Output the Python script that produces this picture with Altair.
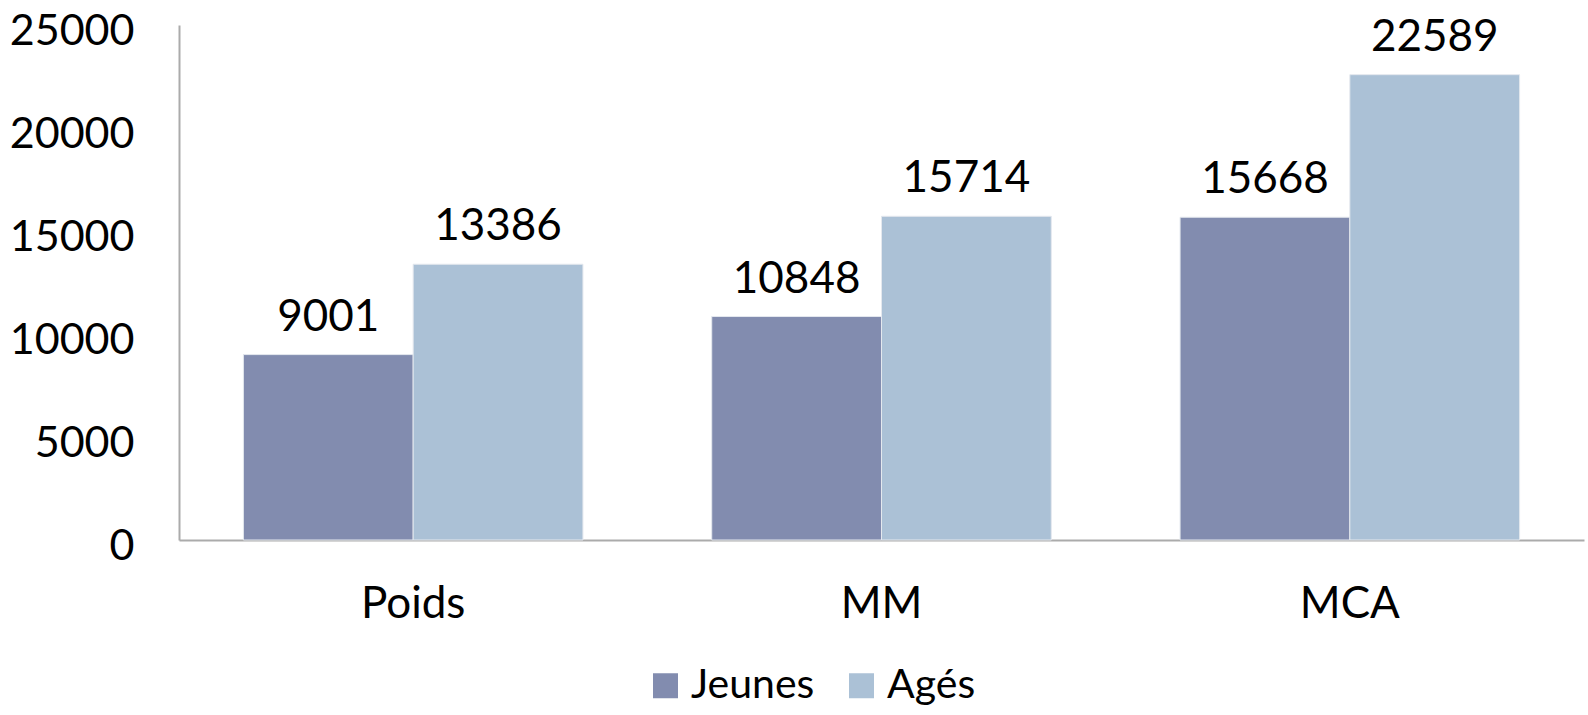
import altair as alt
import pandas as pd

categories = ["Poids", "MM", "MCA"]
groups = ["Jeunes", "Agés"]
jeunes = [9001, 10848, 15668]
ages = [13386, 15714, 22589]
y_ticks = [0, 5000, 10000, 15000, 20000, 25000]
colors = ["#828CAF", "#ABC1D6"]

rows = []
for cat, j, a in zip(categories, jeunes, ages):
    rows.append({"cat": cat, "groupe": groups[0], "valeur": j})
    rows.append({"cat": cat, "groupe": groups[1], "valeur": a})
df = pd.DataFrame(rows)

FONT = "Lato"

x_enc = alt.X(
    "cat:N",
    sort=categories,
    scale=alt.Scale(paddingInner=0.275, paddingOuter=0.1375),
    axis=alt.Axis(
        title=None,
        labelAngle=0,
        ticks=False,
        labelFont=FONT,
        labelFontSize=44,
        labelColor="#000000",
        labelBaseline="alphabetic",
        labelPadding=77,
        domainColor="#ABABAB",
        domainWidth=2,
    ),
)
y_enc = alt.Y(
    "valeur:Q",
    scale=alt.Scale(domain=[0, 25000], nice=False),
    axis=alt.Axis(
        title=None,
        values=y_ticks,
        format="d",
        grid=False,
        ticks=False,
        labelFont=FONT,
        labelFontSize=43,
        labelColor="#000000",
        labelBaseline="alphabetic",
        labelOffset=19,
        labelPadding=45,
        domainColor="#ABABAB",
        domainWidth=2,
    ),
)
xoff = alt.XOffset("groupe:N", sort=groups)
color_enc = alt.Color(
    "groupe:N",
    sort=groups,
    scale=alt.Scale(domain=groups, range=colors),
    legend=alt.Legend(
        title=None,
        orient="none",
        direction="horizontal",
        legendX=466,
        legendY=640,
        padding=0,
        symbolType="square",
        symbolSize=625,
        symbolStrokeWidth=0,
        labelFont=FONT,
        labelFontSize=41,
        labelColor="#000000",
        labelOffset=5,
        columnPadding=26,
    ),
)

bars = alt.Chart(df).mark_bar(stroke="#E4E8EE", strokeWidth=1).encode(
    x=x_enc, xOffset=xoff, y=y_enc, color=color_enc
)

labels = alt.Chart(df).mark_text(
    font=FONT, fontSize=44, color="#000000", baseline="alphabetic", dy=-24
).encode(
    x=alt.X("cat:N", sort=categories),
    xOffset=xoff,
    y="valeur:Q",
    text=alt.Text("valeur:Q", format="d"),
)

chart = (
    alt.layer(bars, labels)
    .properties(
        width=1405,
        height=515,
        autosize=alt.AutoSizeParams(type="none"),
        padding={"left": 179, "top": 25, "right": 4, "bottom": 175},
    )
    .configure(background="#FFFFFF")
    .configure_view(strokeWidth=0, stroke="transparent")
)

chart.save("out.html", embed_options={"renderer": "svg", "actions": False})
